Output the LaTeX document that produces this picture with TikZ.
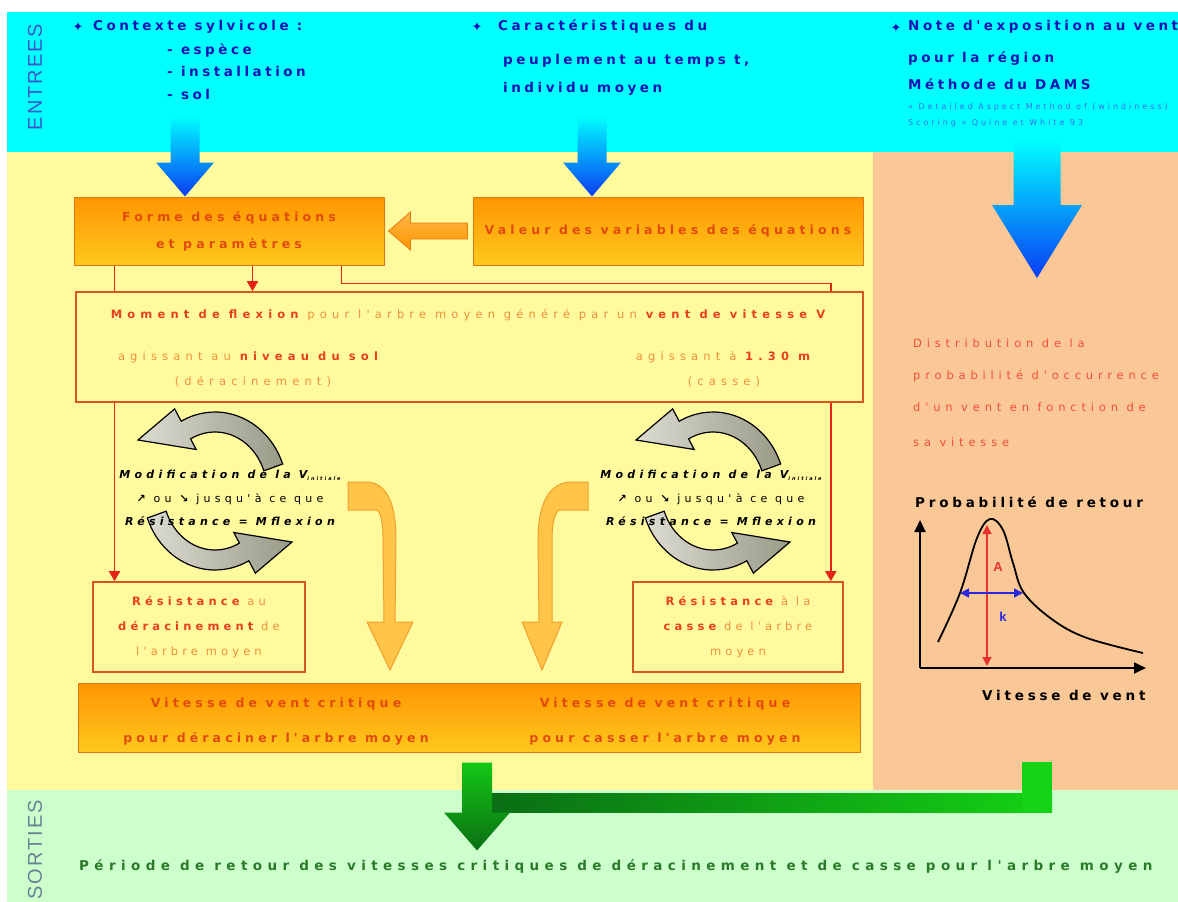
\documentclass[tikz,border=0pt]{standalone}
\usepackage{fontspec}
\setmainfont{Liberation Sans}
\newfontfamily\spfont{DejaVu Sans}
\newfontfamily\bandfont[LetterSpace=10]{Liberation Sans}
\newfontfamily\symfont{DejaVu Sans}
\usetikzlibrary{arrows.meta,calc}

\definecolor{cyanbg}{HTML}{00FFFF}
\definecolor{yelbg}{HTML}{FFFA9E}
\definecolor{peachbg}{HTML}{FAC896}
\definecolor{greenbg}{HTML}{CCFFCC}
\definecolor{inblue}{HTML}{1414B4}
\definecolor{refblue}{HTML}{3C6EE6}
\definecolor{entblue}{HTML}{3A5AC8}
\definecolor{sortgrey}{HTML}{6A8296}
\definecolor{orgtop}{HTML}{FF9600}
\definecolor{orgbot}{HTML}{FFC81E}
\definecolor{orglight}{HTML}{FFB848}
\definecolor{orgedge}{HTML}{E67814}
\definecolor{boxtxt}{HTML}{E04A0C}
\definecolor{boxred}{HTML}{D6561E}
\definecolor{txred}{HTML}{E8401E}
\definecolor{txorange}{HTML}{F0903C}
\definecolor{lnred}{HTML}{E42416}
\definecolor{flowblue}{HTML}{0A3CF5}
\definecolor{loopdark}{HTML}{9A9A88}
\definecolor{looplight}{HTML}{DCDCD2}
\definecolor{curvefill}{HTML}{FFC448}
\definecolor{curveedge}{HTML}{F0A02C}
\definecolor{gtop}{HTML}{14C814}
\definecolor{gdark}{HTML}{0A6E14}
\definecolor{gbright}{HTML}{14D214}
\definecolor{outgreen}{HTML}{2A7A2A}
\definecolor{disttxt}{HTML}{F0503A}
\definecolor{graphred}{HTML}{E83030}
\definecolor{graphblue}{HTML}{2828E0}

% spaced sans text: size, line skip, tracking
\newcommand{\spaced}[3]{\spfont\fontsize{#1}{#2}\selectfont\addfontfeature{LetterSpace=#3}}
\newcommand{\emred}[1]{{\bfseries\color{txred}#1}}

% fat downward arrow: style, from, to, half shaft, half head, head length
\newcommand{\downflow}[6]{%
  \shade[#1] let \p1=#2, \p2=#3 in
    (\x1-#4,\y1) -- (\x1+#4,\y1) -- (\x1+#4,\y2+#6) -- (\x1+#5,\y2+#6)
    -- (\x2,\y2) -- (\x1-#5,\y2+#6) -- (\x1-#4,\y2+#6) -- cycle;}

% pair of curved grey arrows forming an iteration cycle around a centre
\newcommand{\cyclearrows}[1]{%
  \foreach \r in {0,180}{%
    \begin{scope}[shift={(#1)}, rotate=\r]
      \shadedraw[looparrow] (-20:72 and 79)
        arc[start angle=-20, end angle=-118, x radius=72, y radius=79]
        -- (-118:86 and 93) -- (-77,-51) -- (-118:40 and 47) -- (-118:52 and 59)
        arc[start angle=-118, end angle=-20, x radius=52, y radius=59] -- cycle;
    \end{scope}}}

\tikzset{
  every node/.style={inner sep=0pt},
  bandlabel/.style={font=\bandfont\fontsize{20}{22}\selectfont, rotate=90},
  intext/.style={anchor=mid west, text=inblue, font=\spaced{13.5}{15}{26}\bfseries},
  reftext/.style={anchor=mid west, text=refblue, font=\spaced{8}{9}{37}},
  bullet/.style={text=inblue, font=\symfont\fontsize{13}{13}\selectfont},
  obox/.style={draw=orgedge, line width=1pt, top color=orgtop, bottom color=orgbot,
    text=boxtxt, align=center, font=\spaced{12.5}{27}{33}\bfseries},
  rbox/.style={draw=boxred, line width=1.6pt, fill=yelbg},
  restext/.style={align=center, text=txorange, font=\spaced{11.5}{25}{36}},
  momtext/.style={text=txorange, font=\spaced{11.5}{12}{45}},
  vittext/.style={align=center, text=boxtxt, font=\spaced{12.5}{35}{33}\bfseries},
  rline/.style={draw=lnred, line width=1.8pt},
  rtip/.style={-{Triangle[length=10pt,width=11pt]}},
  looparrow/.style={draw=black, line width=1.2pt, left color=looplight, right color=loopdark},
  looptext/.style={align=center, text=black, font=\spaced{11}{23.5}{39}\bfseries\itshape},
  blueflow/.style={top color=cyanbg, bottom color=flowblue},
  orangeflow/.style={draw=orgedge, line width=0.8pt, top color=orglight, bottom color=orgtop},
  curvearrow/.style={draw=curveedge, line width=1pt, fill=curvefill},
  disttext/.style={anchor=mid west, text=disttxt, font=\spaced{11.5}{12}{42}},
  graphlabel/.style={anchor=mid west, text=black, font=\spaced{13.5}{15}{28}\bfseries},
  outtext/.style={anchor=mid west, text=outgreen, font=\spaced{13.5}{15}{40}\bfseries},
  axis/.style={draw=black, line width=1.8pt, -{Triangle[length=12pt,width=11pt]}},
}

\begin{document}
\begin{tikzpicture}[x=1pt,y=-1pt]
\useasboundingbox (0,0) rectangle (1178,902);
\begin{scope}
\clip (0,0) rectangle (1178,902);

% background bands
\fill[white] (0,0) rectangle (1178,902);
\fill[cyanbg] (7,12) rectangle (1178,152);
\fill[yelbg] (7,152) rectangle (873,790);
\fill[peachbg] (873,152) rectangle (1178,790);
\fill[greenbg] (7,790) rectangle (1178,902);

\node[bandlabel, text=entblue] (entrees) at (35,77) {ENTREES};
\node[bandlabel, text=sortgrey] (sorties) at (35,850) {SORTIES};

% inputs
\node[bullet] (bul1) at (78,27) {✦};
\node[intext] (ctx) at (93,28) {Contexte sylvicole :};
\node[intext] (ctxa) at (167,52) {- espèce};
\node[intext] (ctxb) at (167,74) {- installation};
\node[intext] (ctxc) at (167,97) {- sol};

\node[bullet] (bul2) at (477,27) {✦};
\node[intext] (cara) at (498,28) {Caractéristiques du};
\node[intext] (carb) at (503,62) {peuplement au temps t,};
\node[intext] (carc) at (503,90) {individu moyen};

\node[bullet] (bul3) at (896,28) {✦};
\node[intext] (notea) at (908,28) {Note d'exposition au vent};
\node[intext] (noteb) at (908,60) {pour la région};
\node[intext] (notec) at (908,87) {Méthode du DAMS};
\node[reftext] (refa) at (908,107) {« Detailed Aspect Method of (windiness)};
\node[reftext] (refb) at (908,123) {Scoring » Quine et White 93};

% equation boxes
\node[obox, minimum width=310pt, minimum height=68pt] (forme) at (229,231)
  {Forme des équations\\et paramètres};
\node[obox, minimum width=390pt, minimum height=68pt] (valeur) at (668,231)
  {Valeur des variables des équations};

% bending moment box
\node[rbox, minimum width=787pt, minimum height=110pt] (mom) at (469.5,347) {};
\node[momtext] (moma) at (468,315)
  {\emred{Moment de flexion} pour l'arbre moyen généré par un \emred{vent de vitesse V}};
\node[momtext] (momb) at (248,357) {agissant au \emred{niveau du sol}};
\node[momtext] (momc) at (253,382) {(déracinement)};
\node[momtext] (momd) at (723,357) {agissant à \emred{1.30 m}};
\node[momtext] (mome) at (724,382) {(casse)};

% resistance boxes
\node[rbox, restext, minimum width=212pt, minimum height=90pt] (res1) at (199,627)
  {\emred{Résistance} au\\\emred{déracinement} de\\l'arbre moyen};
\node[rbox, restext, minimum width=210pt, minimum height=90pt] (res2) at (738,627)
  {\emred{Résistance} à la\\\emred{casse} de l'arbre\\moyen};

% critical speed box
\node[obox, minimum width=782pt, minimum height=69pt] (vit) at (469,717.5) {};
\node[vittext] (vitl) at (276,722) {Vitesse de vent critique\\pour déraciner l'arbre moyen};
\node[vittext] (vitr) at (665,722) {Vitesse de vent critique\\pour casser l'arbre moyen};

% input arrows
\coordinate (ctxsrc) at (185,116);
\coordinate (carsrc) at (592,116);
\coordinate (notesrc) at (1037,140);
\coordinate (noteend) at (1037,278);
\downflow{blueflow}{(ctxsrc)}{(ctxsrc |- forme.north)}{14.5pt}{29pt}{34pt}
\downflow{blueflow}{(carsrc)}{(carsrc |- valeur.north)}{14.5pt}{29pt}{34pt}
\downflow{blueflow}{(notesrc)}{(noteend)}{23.5pt}{45pt}{73pt}

% values feed the equation form
\shadedraw[orangeflow] let \p1=($(valeur.west)+(-5,0)$), \p2=($(forme.east)+(4,0)$) in
  (\x1,\y1+8pt) -- (\x2+22pt,\y1+8pt) -- (\x2+22pt,\y1+19pt) -- (\x2,\y1)
  -- (\x2+22pt,\y1-19pt) -- (\x2+22pt,\y1-8pt) -- (\x1,\y1-8pt) -- cycle;

% red connectors
\coordinate (fl) at ($(forme.south west)+(41,0)$);
\coordinate (fm) at ($(forme.south west)+(179,0)$);
\coordinate (fr) at ($(forme.south west)+(268,0)$);
\coordinate (cr) at ($(res2.north east)+(-13,0)$);
\draw[rline] (fl) -- (fl |- mom.north);
\draw[rline, rtip] (fm) -- (fm |- mom.north);
\draw[rline] (fr) -- ++(0,18) -| (cr |- mom.north);
\draw[rline, rtip] (fl |- mom.south) -- (fl |- res1.north);
\draw[rline, rtip] (cr |- mom.south) -- (cr);

% iteration cycles
\coordinate (lcyc) at (215,491);
\coordinate (rcyc) at (713,491);
\cyclearrows{lcyc}
\cyclearrows{rcyc}
\node[looptext] (lcyct) at (230,498)
  {Modification de la V{\fontsize{5}{6}\selectfont\raisebox{-1.5pt}{initiale}}\\
   {\symfont\bfseries ↗}{\upshape\mdseries\ ou }{\symfont\bfseries ↘}{\upshape\mdseries\ jusqu'à ce que}\\
   Résistance = Mflexion};
\node[looptext] (rcyct) at (711,498)
  {Modification de la V{\fontsize{5}{6}\selectfont\raisebox{-1.5pt}{initiale}}\\
   {\symfont\bfseries ↗}{\upshape\mdseries\ ou }{\symfont\bfseries ↘}{\upshape\mdseries\ jusqu'à ce que}\\
   Résistance = Mflexion};

% converged speeds flow down to the critical speed box
\filldraw[curvearrow] (348,482) -- (366,482) .. controls (386,482) and (396,502) .. (396,540)
  -- (395,622) -- (413,622) -- (390,670) -- (367,622) -- (384,622) -- (383,540)
  .. controls (383,520) and (380,510) .. (376,510) -- (348,510) -- cycle;
\filldraw[curvearrow] (588,482) -- (572,482) .. controls (550,482) and (538,502) .. (538,540)
  -- (539,622) -- (522,622) -- (542,670) -- (562,622) -- (552,622) -- (552,540)
  .. controls (552,520) and (556,510) .. (560,510) -- (588,510) -- cycle;

% wind distribution panel
\node[disttext] (dista) at (913,345) {Distribution de la};
\node[disttext] (distb) at (913,377) {probabilité d'occurrence};
\node[disttext] (distc) at (913,409) {d'un vent en fonction de};
\node[disttext] (distd) at (913,444) {sa vitesse};

\node[graphlabel] (ylab) at (915,505) {Probabilité de retour};
\node[graphlabel] (xlab) at (982,698) {Vitesse de vent};
\coordinate (gorig) at (920,668);
\coordinate (gytop) at (920,520);
\coordinate (gxend) at (1146,668);
\draw[axis] (gorig) -- (gytop);
\draw[axis] (gorig) -- (gxend);
\draw[black, line width=1.8pt] plot[smooth, tension=0.6] coordinates
  {(938,642) (960,593) (977,538) (990,519) (1003,530) (1013,563) (1024,593)
   (1053,620) (1087,638) (1143,653)};
\coordinate (pka) at (987,525);
\coordinate (pkb) at (987,666);
\draw[graphred, line width=1.5pt, {Triangle[length=9pt,width=9pt]}-{Triangle[length=9pt,width=9pt]}] (pka) -- (pkb);
\coordinate (wda) at (960,593);
\coordinate (wdb) at (1023,593);
\draw[graphblue, line width=1.5pt, {Triangle[length=9pt,width=9pt]}-{Triangle[length=9pt,width=9pt]}] (wda) -- (wdb);
\node[text=graphred, font=\bfseries\fontsize{13}{13}\selectfont] (lblA) at (998,567) {A};
\node[text=graphblue, font=\bfseries\fontsize{13}{13}\selectfont] (lblk) at (1003,617) {k};

% outputs
\coordinate (gsrc) at ($(vit.south)+(8,10)$);
\coordinate (dsrc) at (1037,762);
\shade[left color=gdark, right color=gbright] ($(gsrc)+(15,31)$) rectangle ($(dsrc)+(15,50)$);
\fill[gbright] ($(dsrc)+(-15,0)$) rectangle ($(dsrc)+(15,50)$);
\shade[top color=gtop, bottom color=gdark] (gsrc) ++(-15,0) -- ++(30,0) -- ++(0,50)
  -- ++(18,0) -- ++(-33,38) -- ++(-33,-38) -- ++(18,0) -- cycle;
\node[outtext] (periode) at (79,868)
  {Période de retour des vitesses critiques de déracinement et de casse pour l'arbre moyen};

\end{scope}
\end{tikzpicture}
\end{document}
